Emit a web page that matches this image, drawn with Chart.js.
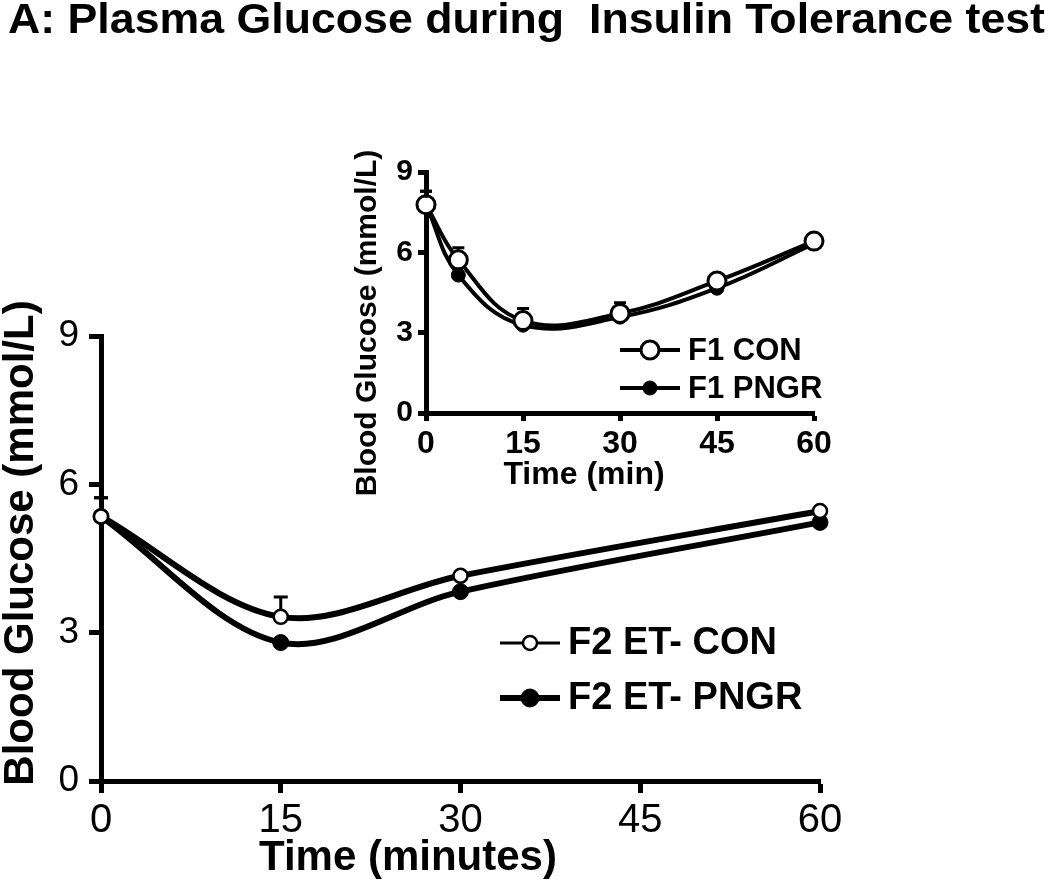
<!DOCTYPE html>
<html>
<head>
<meta charset="utf-8">
<script src="https://cdn.jsdelivr.net/npm/chart.js@4"></script>
<style>
  html, body { margin: 0; padding: 0; background: #fff; }
  #wrap { position: relative; width: 1050px; height: 889px; }
  #main { position: absolute; left: 0; top: 0; }
  #inset { position: absolute; left: 340px; top: 140px; }
</style>
</head>
<body>
<div id="wrap">
  <canvas id="main" width="1050" height="889"></canvas>
  <canvas id="inset" width="500" height="370"></canvas>
</div>
<script>
// ---------- data ----------
const chartTitle = "A: Plasma Glucose during  Insulin Tolerance test";

const mainTimes = [0, 15, 30, 60];
const mainConMean = [5.35, 3.32, 4.15, 5.46];
const mainConSem  = [0.38, 0.40, 0.10, 0.10];
const mainPngrMean = [5.35, 2.80, 3.83, 5.23];
const mainPngrSem  = [0.38, 0.10, 0.10, 0.10];
const mainLabels = ["F2 ET- CON", "F2 ET- PNGR"];
const mainXTicks = [0, 15, 30, 45, 60];
const mainYTicks = [0, 3, 6, 9];

const insetTimes = [0, 5, 15, 30, 45, 60];
const insetConMean = [7.78, 5.72, 3.45, 3.72, 4.93, 6.42];
const insetConSem  = [0.50, 0.45, 0.45, 0.40, 0.32, 0.32];
const insetPngrMean = [7.78, 5.15, 3.28, 3.58, 4.66, 6.32];
const insetPngrSem  = [0.50, 0.15, 0.15, 0.15, 0.15, 0.15];
const insetLabels = ["F1 CON", "F1 PNGR"];
const insetXTicks = [0, 15, 30, 45, 60];
const insetYTicks = [0, 3, 6, 9];

const FONT = "'Liberation Sans', Arial, sans-serif";

function pts(xs, ys) { return xs.map((x, i) => ({ x: x, y: ys[i] })); }

// ---------- plugins ----------
const errorBars = {
  id: 'errorBars',
  afterDatasetsDraw(chart, args, opts) {
    const ctx = chart.ctx;
    const xs = chart.scales.x, ys = chart.scales.y;
    chart.data.datasets.forEach((ds, i) => {
      if (!ds.errors) return;
      ctx.save();
      ctx.strokeStyle = '#000';
      ctx.lineWidth = opts.lineWidth || 3;
      ds.data.forEach((p, j) => {
        const e = ds.errors[j];
        if (!e) return;
        const px = xs.getPixelForValue(p.x);
        const py = ys.getPixelForValue(p.y);
        const pt = ys.getPixelForValue(p.y + e);
        const start = py - ds.pointRadius;
        if (pt >= start) return;
        ctx.beginPath();
        ctx.moveTo(px, start);
        ctx.lineTo(px, pt);
        ctx.moveTo(px - opts.cap, pt);
        ctx.lineTo(px + opts.cap, pt);
        ctx.stroke();
      });
      ctx.restore();
    });
  }
};

const lineLegend = {
  id: 'lineLegend',
  afterDraw(chart, args, o) {
    const ctx = chart.ctx;
    const a = chart.chartArea;
    ctx.save();
    chart.data.datasets.forEach((ds, i) => {
      const y = a.top + o.top + i * o.rowHeight;
      const x0 = a.left + o.left;
      const x1 = x0 + o.lineLength;
      ctx.strokeStyle = '#000';
      ctx.lineWidth = (o.lineWidths && o.lineWidths[i]) || ds.borderWidth;
      ctx.beginPath();
      ctx.moveTo(x0, y); ctx.lineTo(x1, y); ctx.stroke();
      const r = (o.radii && o.radii[i]) || ds.pointRadius;
      ctx.beginPath();
      ctx.arc((x0 + x1) / 2, y, r, 0, Math.PI * 2);
      ctx.fillStyle = ds.pointBackgroundColor;
      ctx.fill();
      ctx.lineWidth = ds.pointBorderWidth;
      ctx.strokeStyle = ds.pointBorderColor;
      ctx.stroke();
      ctx.fillStyle = '#000';
      ctx.font = o.font;
      ctx.textBaseline = 'middle';
      ctx.textAlign = 'left';
      ctx.fillText(ds.label, x1 + o.gap, y + 1);
    });
    ctx.restore();
  }
};

const freeTexts = {
  id: 'freeTexts',
  afterDraw(chart, args, o) {
    const ctx = chart.ctx;
    (o.items || []).forEach(t => {
      ctx.save();
      ctx.translate(t.x, t.y);
      if (t.rot) ctx.rotate(t.rot);
      ctx.font = t.font;
      ctx.fillStyle = '#000';
      ctx.textAlign = t.align || 'center';
      ctx.textBaseline = t.baseline || 'middle';
      if (t.fitWidth) {
        const w = ctx.measureText(t.text).width;
        ctx.scale(t.fitWidth / w, 1);
      }
      ctx.fillText(t.text, 0, 0);
      ctx.restore();
    });
  }
};

function axisScale(min, max, ticks, o) {
  return {
    type: 'linear',
    min: min, max: max,
    afterBuildTicks(scale) { scale.ticks = ticks.map(v => ({ value: v })); },
    afterFit(scale) {
      if (o.width !== undefined) scale.width = o.width;
      if (o.height !== undefined) scale.height = o.height;
    },
    border: { display: true, color: '#000', width: o.border },
    grid: { drawOnChartArea: false, drawTicks: true, tickLength: o.tickLength, tickWidth: o.border, tickColor: '#000', color: '#000' },
    ticks: { color: '#000', font: o.font, padding: o.padding, maxRotation: 0, autoSkip: false },
    title: { display: false }
  };
}

// ---------- main chart ----------
new Chart(document.getElementById('main'), {
  type: 'line',
  data: {
    datasets: [
      {
        label: mainLabels[0],
        data: pts(mainTimes, mainConMean),
        errors: mainConSem,
        borderColor: '#000', borderWidth: 6,
        pointRadius: 7, pointBackgroundColor: '#fff', pointBorderColor: '#000', pointBorderWidth: 2.5,
        tension: 0.33, clip: false
      },
      {
        label: mainLabels[1],
        data: pts(mainTimes, mainPngrMean),
        errors: mainPngrSem,
        borderColor: '#000', borderWidth: 6,
        pointRadius: 8, pointBackgroundColor: '#000', pointBorderColor: '#000', pointBorderWidth: 1,
        tension: 0.33, clip: false
      }
    ]
  },
  options: {
    responsive: false, animation: false,
    layout: { padding: { top: 336, right: 230, bottom: 0, left: 0 } },
    scales: {
      x: axisScale(0, 60, mainXTicks, { height: 108, border: 5, tickLength: 12, padding: 4, font: { family: FONT, size: 40 } }),
      y: axisScale(0, 9, mainYTicks, { width: 101, border: 5, tickLength: 12, padding: 10, font: { family: FONT, size: 37 } })
    },
    plugins: {
      legend: { display: false },
      tooltip: { enabled: false },
      errorBars: { cap: 7, lineWidth: 3 },
      lineLegend: { left: 399, top: 307, rowHeight: 55, lineLength: 60, gap: 8, lineWidths: [3, 6], radii: [7, 9], font: 'bold 38px ' + FONT },
      freeTexts: { items: [
        { text: chartTitle, x: 8, y: 33, align: 'left', baseline: 'alphabetic', font: 'bold 42px ' + FONT, fitWidth: 1037 },
        { text: 'Blood Glucose (mmol/L)', x: 21, y: 543, rot: -Math.PI / 2, font: 'bold 42px ' + FONT },
        { text: 'Time (minutes)', x: 408, y: 858, font: 'bold 42px ' + FONT }
      ] }
    }
  },
  plugins: [errorBars, lineLegend, freeTexts]
});

// ---------- inset chart ----------
new Chart(document.getElementById('inset'), {
  type: 'line',
  data: {
    datasets: [
      {
        label: insetLabels[0],
        data: pts(insetTimes, insetConMean),
        errors: insetConSem,
        borderColor: '#000', borderWidth: 4,
        pointRadius: 9, pointBackgroundColor: '#fff', pointBorderColor: '#000', pointBorderWidth: 3,
        tension: 0.4, clip: false
      },
      {
        label: insetLabels[1],
        data: pts(insetTimes, insetPngrMean),
        errors: insetPngrSem,
        borderColor: '#000', borderWidth: 4,
        pointRadius: 7, pointBackgroundColor: '#000', pointBorderColor: '#000', pointBorderWidth: 1,
        tension: 0.4, clip: false
      }
    ]
  },
  options: {
    responsive: false, animation: false,
    layout: { padding: { top: 32, right: 26, bottom: 0, left: 0 } },
    scales: {
      x: axisScale(0, 60, insetXTicks, { height: 97, border: 5, tickLength: 8, padding: 4, font: { family: FONT, size: 32, weight: 'bold' } }),
      y: axisScale(0, 9, insetYTicks, { width: 86, border: 5, tickLength: 8, padding: 5, font: { family: FONT, size: 30, weight: 'bold' } })
    },
    plugins: {
      legend: { display: false },
      tooltip: { enabled: false },
      errorBars: { cap: 6, lineWidth: 3 },
      lineLegend: { left: 194, top: 178, rowHeight: 38, lineLength: 60, gap: 8, font: 'bold 31px ' + FONT },
      freeTexts: { items: [
        { text: 'Blood Glucose (mmol/L)', x: 28, y: 183, rot: -Math.PI / 2, font: 'bold 30px ' + FONT },
        { text: 'Time (min)', x: 244, y: 335, font: 'bold 32px ' + FONT }
      ] }
    }
  },
  plugins: [errorBars, lineLegend, freeTexts]
});
</script>
</body>
</html>
